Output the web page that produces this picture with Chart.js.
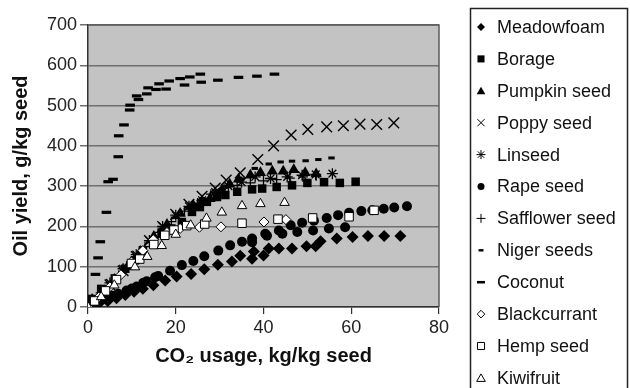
<!DOCTYPE html>
<html>
<head>
<meta charset="utf-8">
<script src="https://cdn.jsdelivr.net/npm/chart.js@4/dist/chart.umd.min.js"></script>
<style>
  html, body { margin: 0; padding: 0; background: #fff; }
</style>
</head>
<body>
<canvas id="oilChart" width="630" height="388"></canvas>
<script>
// Oil yield vs CO2 usage, one series per seed
const seriesNames = ['Meadowfoam', 'Borage', 'Pumpkin seed', 'Poppy seed', 'Linseed', 'Rape seed',
  'Safflower seed', 'Niger seeds', 'Coconut', 'Blackcurrant', 'Hemp seed', 'Kiwifruit'];

// [CO2 usage kg/kg, oil yield g/kg]
const meadowfoam = [[0.5, 3], [2.5, 9], [4.5, 15], [6.5, 22], [8.5, 30], [10.5, 38], [12.5, 45], [14.9, 54],
  [17.6, 66], [20.2, 76], [23.5, 82], [26.5, 94], [29.6, 105], [32.8, 113], [34.7, 127], [37.4, 120],
  [37.8, 138], [40, 128], [41.2, 145], [43.5, 145], [46.5, 145], [49.8, 151], [51.9, 151], [53, 163],
  [56.7, 170], [60.3, 174], [63.8, 176], [67.5, 176], [71.2, 176]];
const borage = [[0.8, 20], [3, 45], [6.1, 71], [8.5, 95], [10.7, 116], [12.5, 141], [15, 160], [16.8, 182],
  [19, 195], [21.4, 211], [23.7, 236], [25.5, 248], [27.1, 261], [29.4, 273], [31.3, 278], [34, 286],
  [37.4, 292], [39.7, 294], [43, 298], [46.5, 302], [50, 308], [53.8, 310], [57.4, 308], [61, 311]];
const pumpkin = [[1, 10], [3, 32], [6, 68], [9, 100], [12, 138], [15, 175], [18, 205], [21, 232], [24, 252],
  [26, 262], [27.8, 269], [30.5, 290], [32.3, 305], [34.3, 317], [37, 327], [39.3, 333], [42, 337],
  [44.5, 337], [46.9, 341], [49.5, 333], [52, 330]];
const poppy = [[2, 20], [5, 55], [8, 90], [11, 125], [14, 165], [17, 200], [20, 230], [23, 255], [26, 275],
  [29, 295], [31.5, 315], [34.7, 333], [38.7, 366], [42.3, 400], [46.3, 427], [50.1, 441], [54.4, 447],
  [58.2, 450], [62, 454], [65.8, 453], [69.7, 457]];
const linseed = [[1, 12], [3, 35], [5, 60], [8, 95], [11, 130], [14, 165], [17, 200], [20, 228], [23, 250],
  [26, 265], [29, 285], [32, 300], [35, 310], [38.1, 323], [41.6, 319], [45.4, 323], [48.8, 327],
  [51.9, 329], [55.7, 331]];
const rape = [[1.5, 10], [3.8, 21], [5.5, 28], [6.9, 33], [8.8, 41], [10, 46], [11.1, 51], [12.6, 60],
  [13.4, 64], [15.3, 74], [16, 77], [18.7, 90], [21.4, 104], [24, 114], [26.5, 126], [29.7, 140],
  [32.4, 153], [35.1, 162], [37.4, 170], [40.4, 182], [43.5, 190], [46.2, 203], [48.8, 209], [51.5, 214],
  [54.4, 221], [57, 228], [59.5, 234], [62.3, 238], [64.8, 240], [67.4, 244], [69.8, 247], [72.7, 250],
  [37.4, 161], [40.8, 177], [44.3, 182], [47.7, 186], [51.3, 190], [54.9, 195], [58.6, 198]];
const safflower = [[1.5, 12], [4, 42], [7, 78], [10, 112], [13, 150], [16, 185], [19, 212], [22, 238],
  [25, 258], [28, 280], [31, 295], [34, 302], [37, 308], [40, 313], [43, 316], [46, 320], [49, 323], [52, 326]];
const niger = [[2, 22], [5, 58], [8, 92], [11, 128], [14, 162], [17, 195], [20, 222], [23, 245], [26, 262],
  [29, 282], [32, 300], [35, 318], [38, 344], [41.2, 355], [43.9, 360], [46.5, 362], [49.6, 363],
  [52.5, 366], [55.5, 370]];
const coconut = [[1.7, 81], [2.3, 122], [2.8, 162], [4.2, 235], [4.6, 311], [5.7, 317], [6.9, 373], [7, 425],
  [8.2, 452], [9.5, 489], [9.6, 501], [11.1, 524], [11.5, 515], [13.4, 529], [13.7, 544], [15.5, 540],
  [16.2, 554], [17.8, 541], [18.5, 561], [21, 567], [22, 551], [23.2, 571], [25.6, 578], [25.8, 558],
  [29.6, 563], [34.3, 570], [38.5, 573], [42.5, 578]];
const blackcurrant = [[0, 0], [2.5, 25], [5, 50], [7.5, 80], [9.9, 112], [12.5, 140], [14.9, 167], [18, 185],
  [21, 195], [25.4, 198], [30.3, 199], [40.1, 211], [45.1, 217]];
const hemp = [[1.5, 15], [4, 40], [6.5, 68], [9.9, 108], [11.8, 119], [15, 155], [17.5, 178], [19.6, 191],
  [22.5, 202], [26.6, 206], [35.1, 208], [43.3, 218], [51.2, 221], [59.5, 224], [65.2, 240]];
const kiwifruit = [[0, 0], [3, 25], [6, 54], [10.7, 99], [13.5, 125], [16.8, 152], [20, 180], [23.4, 203],
  [27, 220], [30.5, 235], [35.1, 251], [39.3, 256], [44.8, 259]];

const seriesData = [meadowfoam, borage, pumpkin, poppy, linseed, rape, safflower, niger, coconut,
  blackcurrant, hemp, kiwifruit];

const xTicks = [0, 20, 40, 60, 80];
const yTicks = [0, 100, 200, 300, 400, 500, 600, 700];

// marker look: style, radius, border width, filled, legend radius
const markers = [
  ['rectRot', 6, 0, true, 4],
  ['rect', 6, 0, true, 5],
  ['triangle', 6.5, 0, true, 5],
  ['crossRot', 7.5, 1.4, false, 5],
  ['star', 5.5, 1.3, false, 4.5],
  ['circle', 5, 0, true, 3.5],
  ['cross', 5, 1.3, false, 4.5],
  ['line', 3.2, 3, false, 2.5],
  ['line', 4.8, 3.2, false, 4],
  ['rectRot', 5, 1, false, 3.8],
  ['rect', 6, 1, false, 5],
  ['triangle', 5.5, 1, false, 5]
];

const datasets = seriesNames.map((name, i) => {
  const [style, r, bw, filled] = markers[i];
  const open = !filled && (style === 'rectRot' || style === 'rect' || style === 'triangle');
  return {
    label: name,
    data: seriesData[i].map(p => ({ x: p[0], y: p[1] })),
    pointStyle: style,
    pointRadius: r,
    pointBorderWidth: filled ? 0 : bw,
    backgroundColor: open ? '#fff' : '#000',
    borderColor: '#000',
    order: seriesNames.length - i
  };
});

const plotFrame = {
  id: 'plotFrame',
  beforeDraw(chart) {
    const { ctx, chartArea: a } = chart;
    ctx.save();
    ctx.fillStyle = '#c3c3c3';
    ctx.fillRect(a.left, a.top, a.right - a.left, a.bottom - a.top);
    ctx.restore();
  },
  beforeDatasetsDraw(chart) {
    const { ctx, chartArea: a } = chart;
    ctx.save();
    ctx.strokeStyle = '#5c5c5c';
    ctx.lineWidth = 1.5;
    ctx.beginPath();
    ctx.moveTo(a.left, a.top);
    ctx.lineTo(a.right, a.top);
    ctx.lineTo(a.right, a.bottom);
    ctx.stroke();
    ctx.restore();
  }
};

// boxed legend on the right, drawn by hand
const sideLegend = {
  id: 'sideLegend',
  afterDraw(chart) {
    const ctx = chart.ctx;
    ctx.save();
    ctx.strokeStyle = '#222';
    ctx.lineWidth = 1.5;
    ctx.strokeRect(470.5, 8.5, 157, 400);
    ctx.font = '18px "Liberation Sans", Arial, sans-serif';
    ctx.textBaseline = 'middle';
    seriesNames.forEach((name, i) => {
      const y = 27 + i * 31.9;
      const [style, r, bw, filled, lr] = markers[i];
      const open = !filled && (style === 'rectRot' || style === 'rect' || style === 'triangle');
      ctx.fillStyle = open ? '#fff' : '#000';
      ctx.strokeStyle = '#000';
      ctx.lineWidth = filled ? 0 : (style === 'line' ? bw * 0.8 : 1);
      Chart.helpers.drawPoint(ctx, {
        pointStyle: style, radius: lr, rotation: 0, borderWidth: filled ? 0 : ctx.lineWidth
      }, 481, style === 'triangle' ? y + 1 : y);
      ctx.fillStyle = '#111';
      ctx.fillText(name, 497, y + 1);
    });
    ctx.restore();
  }
};

const oilChart = new Chart(document.getElementById('oilChart'), {
  type: 'scatter',
  data: { datasets },
  plugins: [plotFrame, sideLegend],
  options: {
    responsive: false,
    animation: false,
    events: [],
    layout: { padding: { top: 25, right: 191, left: 0, bottom: 0 } },
    plugins: { legend: { display: false }, tooltip: { enabled: false } },
    scales: {
      x: {
        type: 'linear',
        min: 0,
        max: 80,
        afterBuildTicks: s => { s.ticks = xTicks.map(v => ({ value: v })); },
        afterFit: s => { s.height = 81; },
        ticks: { color: '#222', font: { size: 18, family: '"Liberation Sans", Arial' }, padding: 3 },
        grid: { drawOnChartArea: false, drawTicks: true, tickLength: 7, color: '#333', lineWidth: 1.2 },
        border: { color: '#333', width: 1.5 },
        title: {
          display: true,
          text: 'CO₂ usage, kg/kg seed',
          color: '#111',
          font: { size: 20, weight: 'bold', family: '"Liberation Sans", Arial' },
          padding: { top: 0, bottom: 20 }
        }
      },
      y: {
        min: 0,
        max: 700,
        afterBuildTicks: s => { s.ticks = yTicks.map(v => ({ value: v })); },
        afterFit: s => { s.width = 88; },
        ticks: { color: '#222', font: { size: 18, family: '"Liberation Sans", Arial' }, padding: 3 },
        grid: { color: '#6f6f6f', lineWidth: 1.5, tickLength: 8 },
        border: { color: '#333', width: 1.5 },
        title: {
          display: true,
          text: 'Oil yield, g/kg seed',
          color: '#111',
          font: { size: 20, weight: 'bold', family: '"Liberation Sans", Arial' },
          padding: { top: 9, bottom: 0 }
        }
      }
    }
  }
});
</script>
</body>
</html>
